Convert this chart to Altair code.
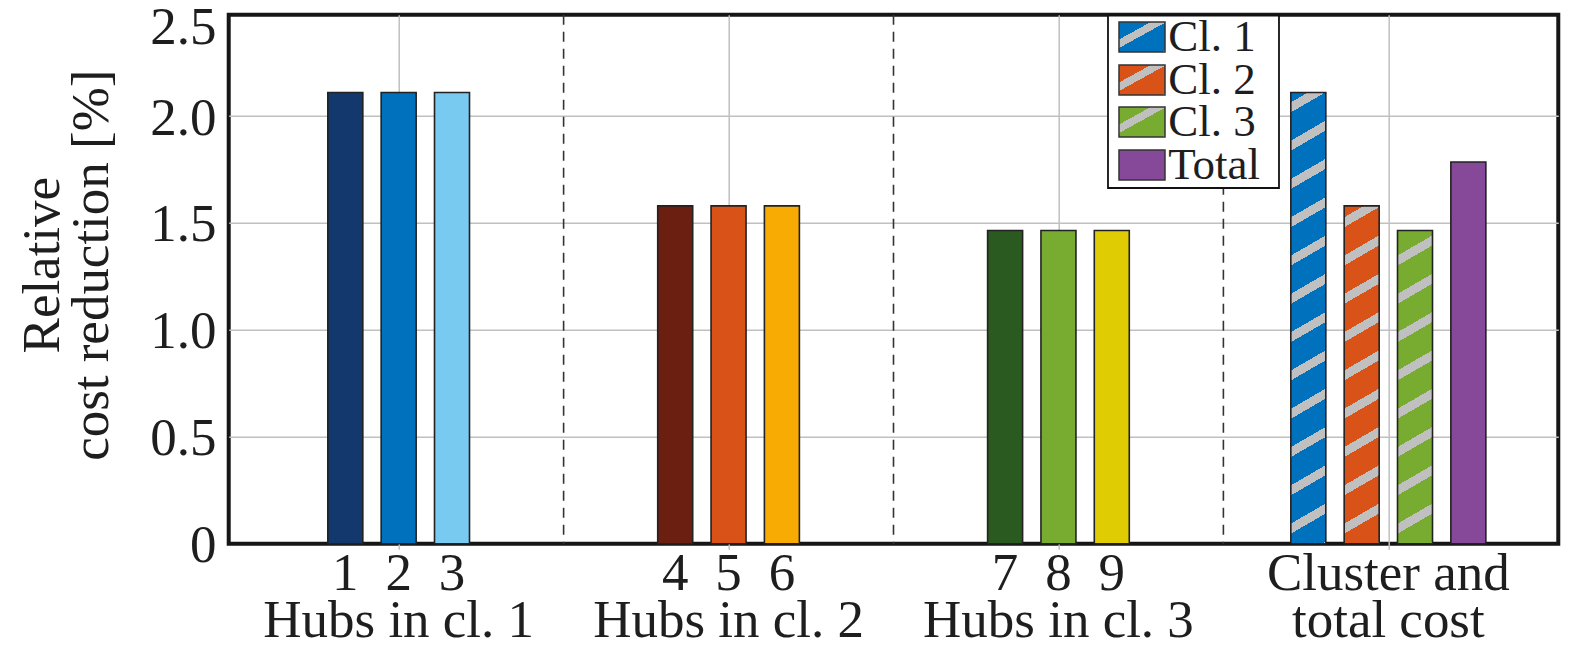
import math
import altair as alt
import pandas as pd

# ---------------- data ----------------
hub_labels = ["1", "2", "3", "4", "5", "6", "7", "8", "9"]
hub_values = [2.11, 2.11, 2.11, 1.58, 1.58, 1.58, 1.465, 1.465, 1.465]
hub_colors = ["#12386d", "#0071bc", "#78caf1",
              "#6a1f10", "#d95319", "#f8ab02",
              "#2b5a20", "#77ac30", "#dfcc02"]
hub_group = [1, 1, 1, 2, 2, 2, 3, 3, 3]
hub_slot = [-1, 0, 1, -1, 0, 1, -1, 0, 1]

cluster_names = ["Cl. 1", "Cl. 2", "Cl. 3", "Total"]
cluster_values = [2.11, 1.58, 1.465, 1.785]
cluster_colors = ["#0071bc", "#d95319", "#77ac30", "#86499a"]
cluster_hatched = [True, True, True, False]
cluster_slot = [-1.5, -0.5, 0.5, 1.5]

group_centers = [1, 2, 3]
group_labels = ["Hubs in cl. 1", "Hubs in cl. 2", "Hubs in cl. 3"]
last_group_center = [4]
last_group_label = ["Cluster and\ntotal cost"]
group_bounds = [1.5, 2.5, 3.5]
y_ticks = [0, 0.5, 1.0, 1.5, 2.0, 2.5]
y_title = ["Relative", "cost reduction [%]"]

# ---------------- style / layout ----------------
W, H = 1329.6, 529
YMAX = 2.474          # value at the top edge of the frame
YTOP = 2.5
PX_PER_UNIT = H / YMAX
SLOT = 0.1617
BAR_W = 35
FONT = "Liberation Serif"
TXT = "#1e1e1e"
EDGE = "#222222"
HATCH = "#c0c0c0"
AX_FS = 53

hubs = pd.DataFrame({
    "label": hub_labels, "value": hub_values, "color": hub_colors,
    "pos": [g + s * SLOT for g, s in zip(hub_group, hub_slot)],
})
clusters = pd.DataFrame({
    "name": cluster_names, "value": cluster_values, "color": cluster_colors,
    "hatched": cluster_hatched,
    "pos": [4 + s * SLOT for s in cluster_slot],
})

x_enc = alt.X("pos:Q", scale=alt.Scale(domain=[0.5, 4.5], nice=False, zero=False),
              axis=alt.Axis(values=[1, 2, 3, 4], labels=False, ticks=False, domain=False,
                            grid=True, gridColor="#c0c0c0", gridWidth=1.5, title=None))
y_enc = alt.Y("value:Q",
              scale=alt.Scale(domain=[0, YTOP], range=[H, H - YTOP * PX_PER_UNIT], nice=False),
              axis=alt.Axis(values=y_ticks, ticks=False, domain=False, grid=True,
                            gridColor={"condition": {"test": "datum.value > 2.45 || datum.value == 0",
                                                     "value": "transparent"},
                                       "value": "#c0c0c0"},
                            gridWidth=1.5,
                            labelExpr="datum.value == 0 ? '0' : format(datum.value, '.1f')",
                            labelFont=FONT, labelFontSize=AX_FS, labelColor=TXT,
                            labelPadding=12.7,
                            labelOffset={"condition": {"test": "datum.value > 2.45", "value": 18.5},
                                         "value": 2},
                            title=y_title, titleFont=FONT, titleFontSize=AX_FS,
                            titleFontWeight="normal", titleColor=TXT,
                            titleLineHeight=50, titleX=-170.7, titleY=250,
                            titleBaseline="alphabetic", titleAlign="center", titleAngle=270))


def hatch(base, w, h, s=0.58, P=38.3, g=10.0, lo=10.0):
    L = s * w + h
    k = (s * w + h) / ((s * w) ** 2 + h ** 2)
    a, b = k * s * w, k * h
    bands = []
    for n in range(-int(math.ceil(s * w / P)) - 2, int(math.ceil(h / P)) + 3):
        hi_f = h - lo - n * P
        lo_f = hi_f - g
        a0, a1 = max(lo_f, 0.0), min(hi_f, L)
        if a1 > a0:
            bands.append((round(a0 / L, 5), round(a1 / L, 5)))
    bands.sort()
    stops = [alt.GradientStop(offset=0, color=base)]
    for o0, o1 in bands:
        stops += [alt.GradientStop(offset=o0, color=base), alt.GradientStop(offset=o0, color=HATCH),
                  alt.GradientStop(offset=o1, color=HATCH), alt.GradientStop(offset=o1, color=base)]
    stops.append(alt.GradientStop(offset=1, color=base))
    return alt.LinearGradient(gradient="linear", stops=stops, x1=0, y1=0, x2=a, y2=b)


layers = []

# dashed separators
sep_df = pd.DataFrame({"pos": group_bounds})
layers.append(alt.Chart(sep_df).mark_rule(color="#333333", strokeWidth=1.6, strokeDash=[10, 7]).encode(
    x=x_enc, y=alt.value(0), y2=alt.value(H)))

# solid bars
solid = pd.concat([hubs[["pos", "value", "color"]],
                   clusters[~clusters["hatched"]][["pos", "value", "color"]]])
layers.append(alt.Chart(solid).mark_bar(orient="vertical", size=BAR_W, stroke=EDGE, strokeWidth=1.6).encode(
    x=x_enc, y=y_enc, fill=alt.Fill("color:N", scale=None)))

# hatched bars
for i, row in clusters[clusters["hatched"]].iterrows():
    hpx = row["value"] * PX_PER_UNIT
    layers.append(alt.Chart(clusters.iloc[[i]]).mark_bar(
        orient="vertical", size=BAR_W, fill=hatch(row["color"], BAR_W, hpx),
        stroke=EDGE, strokeWidth=1.6).encode(x=x_enc, y=y_enc))

# x labels: hub numbers
layers.append(alt.Chart(hubs).mark_text(font=FONT, fontSize=AX_FS, color=TXT, baseline="alphabetic").encode(
    x=x_enc, y=alt.value(575.3), text="label:N"))
# group labels
gl = pd.DataFrame({"pos": group_centers, "label": group_labels})
layers.append(alt.Chart(gl).mark_text(font=FONT, fontSize=AX_FS, color=TXT, baseline="alphabetic").encode(
    x=x_enc, y=alt.value(622.5), text="label:N"))
lg = pd.DataFrame({"pos": last_group_center, "label": last_group_label})
layers.append(alt.Chart(lg).mark_text(font=FONT, fontSize=AX_FS, color=TXT, baseline="alphabetic",
                                      lineBreak="\n", lineHeight=47.2).encode(
    x=x_enc, y=alt.value(575.3), text="label:N"))

# legend
one = pd.DataFrame({"k": [0]})
LX0, LX1, LY0, LY1 = 879.3, 1050.3, 1.0, 173.3
layers.append(alt.Chart(one).mark_rect(fill="white", stroke="#111111", strokeWidth=1.8).encode(
    x=alt.value(LX0), x2=alt.value(LX1), y=alt.value(LY0), y2=alt.value(LY1)))
SW_X0, SW_X1, SW_H = 890.3, 936.3, 30
sw_centers = [22.3, 65.3, 107.3, 150.3]
for name, col, hat, yc in zip(cluster_names, cluster_colors, cluster_hatched, sw_centers):
    fill = hatch(col, SW_X1 - SW_X0, SW_H, s=0.55, P=36, g=8.5, lo=4) if hat else col
    layers.append(alt.Chart(one).mark_rect(fill=fill, stroke="#333333", strokeWidth=1.5).encode(
        x=alt.value(SW_X0), x2=alt.value(SW_X1), y=alt.value(yc - SW_H / 2), y2=alt.value(yc + SW_H / 2)))
    layers.append(alt.Chart(pd.DataFrame({"t": [name]})).mark_text(
        font=FONT, fontSize=45, color=TXT, align="left", baseline="alphabetic").encode(
        x=alt.value(939.5), y=alt.value(yc + 14.5), text="t:N"))

chart = alt.layer(*layers).properties(
    width=W, height=H,
    background="white",
    autosize=alt.AutoSizeParams(type="none"),
    padding={"left": 220.7, "top": 6.7, "right": 12.7, "bottom": 94},
).configure_view(stroke="#161616", strokeWidth=4)

chart.save("out.html", embed_options={"renderer": "svg", "actions": False})
